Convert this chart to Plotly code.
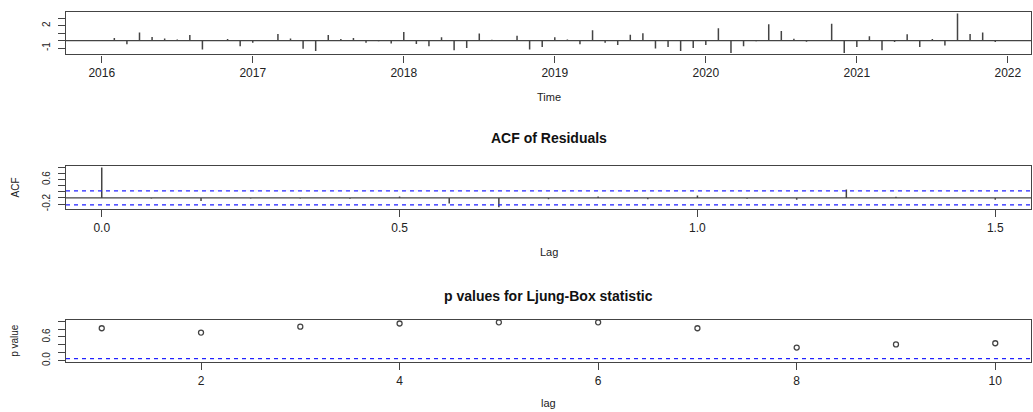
import numpy as np
import plotly.graph_objects as go

# ---------------- data ----------------
start_year = 2016
freq = 12
std_resid = [
    0.05, 0.35, -0.5, 1.1, 0.5, 0.3, 0.15, 0.75, -1.2, 0.0, 0.2, -0.75,      # 2016
    -0.3, 0.05, 0.9, 0.27, -1.1, -1.4, 0.75, 0.2, 0.35, -0.3, -0.1, -0.4,    # 2017
    1.15, -0.45, -0.75, 0.45, -1.3, -1.0, 0.95, 0.1, 0.0, 0.65, -1.2, -0.85, # 2018
    0.45, 0.15, -0.5, 1.4, -0.3, -0.6, 0.8, 1.0, -1.05, -0.85, -1.4, -1.0,   # 2019
    -0.6, 1.65, -1.65, -0.75, -0.1, 2.2, 1.3, 0.25, -0.15, 0.0, 2.25, -1.65, # 2020
    -0.85, 0.6, -1.3, -0.2, 0.85, -0.85, 0.2, -0.65, 3.65, 0.9, 1.1, -0.2,   # 2021
]
acf_lag_months = list(range(19))
acf_vals = [1.0, -0.02, -0.1, -0.02, -0.02, -0.03, 0.05, -0.18, -0.31, -0.04,
            0.05, -0.04, 0.08, -0.03, -0.06, 0.28, 0.04, 0.0, -0.06]
lb_lags = list(range(1, 11))
lb_pvals = [0.82, 0.71, 0.86, 0.94, 0.97, 0.97, 0.82, 0.33, 0.41, 0.44]
sig_level = 0.05

top_ticks = [2016, 2017, 2018, 2019, 2020, 2021, 2022]
top_yticks = [-1, 0, 1, 2, 3]
top_ytext = ["-1", "", "", "2", ""]
acf_xticks = [0.0, 0.5, 1.0, 1.5]
acf_xtext = ["0.0", "0.5", "1.0", "1.5"]
acf_yticks = [-0.2, 0.0, 0.2, 0.4, 0.6, 0.8, 1.0]
acf_ytext = ["-0.2", "", "", "", "0.6", "", ""]
lb_xticks = [2, 4, 6, 8, 10]
lb_yticks = [0.0, 0.2, 0.4, 0.6, 0.8, 1.0]
lb_ytext = ["0.0", "", "", "0.6", "", ""]

# ---------------- derived ----------------
n_obs = len(std_resid)
times = [start_year + i / freq for i in range(n_obs)]
acf_lags = [m / freq for m in acf_lag_months]
clim = 1.96 / np.sqrt(n_obs)


def spikes(xs, ys):
    X, Y = [], []
    for x, y in zip(xs, ys):
        X += [x, x, None]
        Y += [0, y, None]
    return X, Y


def pad(lo, hi, f=0.04):
    d = (hi - lo) * f
    return [lo - d, hi + d]


W, H = 1033, 412
FONT = "Liberation Sans, Arial, sans-serif"
LINE = "#444444"
TXT = "#222222"
BLUE = "#2222ff"


def xd(a, b):
    return [a / W, b / W]


def yd(top, bottom):
    return [(H - bottom) / H, (H - top) / H]


fig = go.Figure()

tx, ty = spikes(times, std_resid)
fig.add_trace(go.Scatter(x=tx, y=ty, mode="lines", line=dict(color=LINE, width=1.5),
                         xaxis="x", yaxis="y", hoverinfo="skip", showlegend=False))
ax, ay = spikes(acf_lags, acf_vals)
fig.add_trace(go.Scatter(x=ax, y=ay, mode="lines", line=dict(color=LINE, width=1.5),
                         xaxis="x2", yaxis="y2", hoverinfo="skip", showlegend=False))
fig.add_trace(go.Scatter(x=lb_lags, y=lb_pvals, mode="markers",
                         marker=dict(symbol="circle-open", size=5, color=LINE,
                                     line=dict(width=1.3, color=LINE)),
                         xaxis="x3", yaxis="y3", showlegend=False))

common_axis = dict(showline=True, mirror=True, linecolor=LINE, linewidth=1.3,
                   ticks="outside", ticklen=7, tickcolor=LINE, tickwidth=1.2,
                   showgrid=False, zeroline=False, fixedrange=True)
xfont = dict(family=FONT, size=12, color=TXT)
yfont = dict(family=FONT, size=10, color=TXT)

X0, X1 = 66, 1031
top_box = (12, 55)
acf_box = (167.5, 211)
lb_box = (322.7, 365.7)

fig.update_layout(
    width=W, height=H, autosize=False,
    margin=dict(l=0, r=0, t=0, b=0),
    paper_bgcolor="white", plot_bgcolor="white",
    xaxis=dict(domain=xd(X0, X1), anchor="y",
               range=pad(min(times), max(times)),
               tickvals=top_ticks, ticktext=[str(t) for t in top_ticks],
               tickfont=xfont, **common_axis),
    yaxis=dict(domain=yd(*top_box), anchor="x",
               range=pad(min(std_resid), max(std_resid)),
               tickvals=top_yticks, ticktext=top_ytext, tickangle=-90,
               tickfont=yfont, ticklabelstandoff=4, **common_axis),
    xaxis2=dict(domain=xd(X0, X1), anchor="y2",
                range=pad(min(acf_lags), max(acf_lags)),
                tickvals=acf_xticks, ticktext=acf_xtext,
                tickfont=xfont, **common_axis),
    yaxis2=dict(domain=yd(*acf_box), anchor="x2",
                range=pad(min(min(acf_vals), -clim), max(max(acf_vals), clim)),
                tickvals=acf_yticks, ticktext=acf_ytext, tickangle=-90,
                tickfont=yfont, ticklabelstandoff=4, **common_axis),
    xaxis3=dict(domain=xd(X0, X1), anchor="y3",
                range=pad(min(lb_lags), max(lb_lags)),
                tickvals=lb_xticks, ticktext=[str(t) for t in lb_xticks],
                tickfont=xfont, **common_axis),
    yaxis3=dict(domain=yd(*lb_box), anchor="x3",
                range=pad(0, 1),
                tickvals=lb_yticks, ticktext=lb_ytext, tickangle=-90,
                tickfont=yfont, ticklabelstandoff=4, **common_axis),
)

# reference lines
fig.add_shape(type="line", xref="x domain", yref="y", x0=0, x1=1, y0=0, y1=0,
              line=dict(color=LINE, width=1.3), layer="below")
fig.add_shape(type="line", xref="x2 domain", yref="y2", x0=0, x1=1, y0=0, y1=0,
              line=dict(color=LINE, width=1.3), layer="below")
for yv in (clim, -clim):
    fig.add_shape(type="line", xref="x2 domain", yref="y2", x0=0, x1=1, y0=yv, y1=yv,
                  line=dict(color=BLUE, width=1.2, dash="4px,4px"))
fig.add_shape(type="line", xref="x3 domain", yref="y3", x0=0, x1=1, y0=sig_level, y1=sig_level,
              line=dict(color=BLUE, width=1.2, dash="4px,4px"))


def ann(text, x_px, y_px, size, bold=False, angle=0):
    fig.add_annotation(text=f"<b>{text}</b>" if bold else text,
                       x=x_px / W, y=(H - y_px) / H, xref="paper", yref="paper",
                       xanchor="center", yanchor="middle", showarrow=False,
                       textangle=angle,
                       font=dict(family=FONT, size=size, color="#111111" if bold else TXT))


mid = (X0 + X1) / 2
ann("Time", mid, 98, 11)
ann("ACF of Residuals", mid, 139, 14, bold=True)
ann("Lag", mid, 254, 11)
ann("p values for Ljung-Box statistic", mid, 299, 14, bold=True)
ann("lag", mid, 407, 11)
ann("ACF", 15, (acf_box[0] + acf_box[1]) / 2, 10, angle=-90)
ann("p value", 15, (lb_box[0] + lb_box[1]) / 2, 10, angle=-90)

fig.write_html("out.html", config={"displayModeBar": False},
               post_script="document.body.style.margin='0';document.body.style.overflow='hidden';")
